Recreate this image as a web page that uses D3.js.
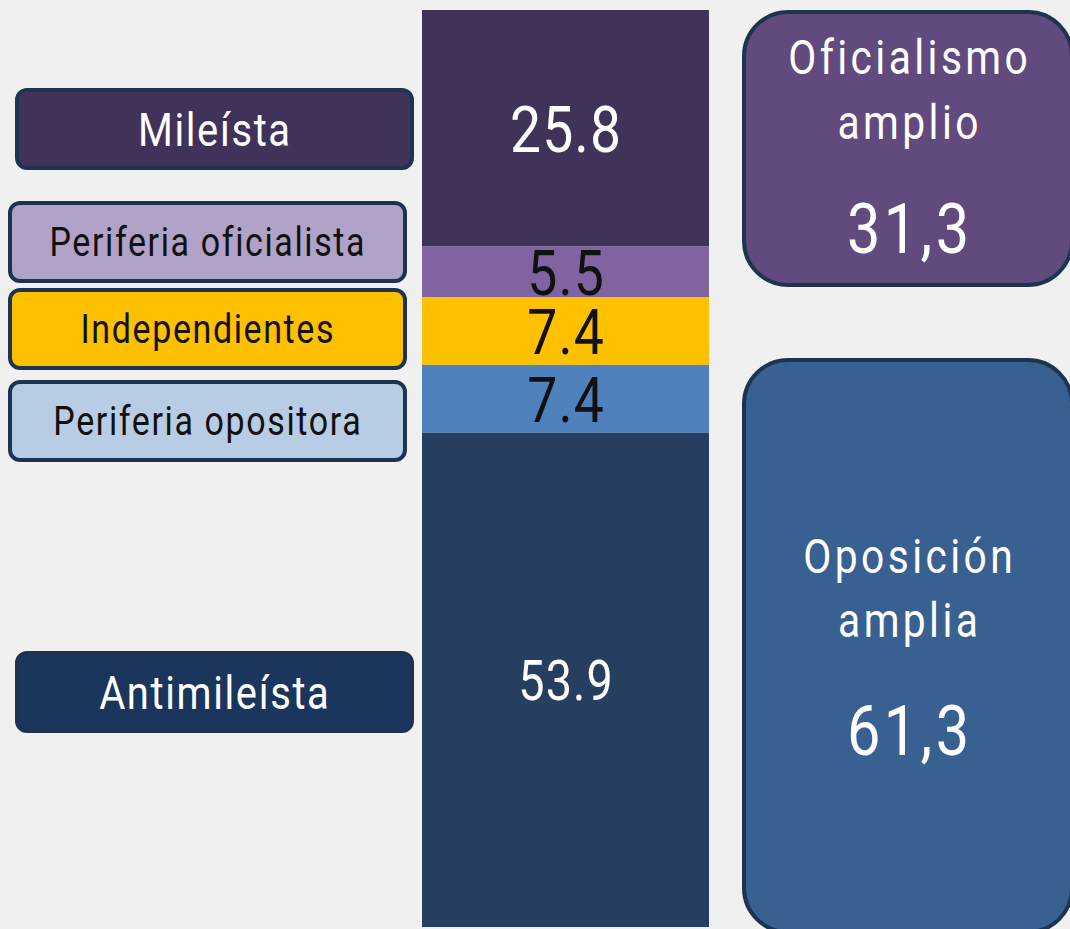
<!DOCTYPE html>
<html>
<head>
<meta charset="utf-8">
<script src="https://cdn.jsdelivr.net/npm/d3@7"></script>
<style>
  body { margin: 0; background: #f0f0f0; }
  text { font-family: Roboto, "Noto Sans", sans-serif; }
</style>
</head>
<body>
<div id="chart"></div>
<script>
// data
const categories = ["Mileísta", "Periferia oficialista", "Independientes", "Periferia opositora", "Antimileísta"];
const values = [25.8, 5.5, 7.4, 7.4, 53.9];
const blockNames = [["Oficialismo", "amplio"], ["Oposición", "amplia"]];
const blockValues = [31.3, 61.3];

const barColors = ["#41325a", "#8064a2", "#ffc000", "#4f81bd", "#263f61"];
const boxColors = ["#41325a", "#b1a2c8", "#ffc000", "#b8cce4", "#1a365d"];
const textColors = ["#ffffff", "#111111", "#111111", "#111111", "#ffffff"];
const valueColors = ["#ffffff", "#111111", "#111111", "#111111", "#ffffff"];
const valueSizes = [65, 63, 63, 63, 55];
const blockColors = ["#614a7d", "#386192"];

const width = 1070, height = 929;
const squeeze = 0.85; // fake the condensed face

const svg = d3.select("#chart")
    .append("svg")
    .attr("width", width)
    .attr("height", height);

svg.append("rect")
    .attr("width", width)
    .attr("height", height)
    .attr("fill", "#f0f0f0");

// stacked bar
const y = d3.scaleLinear().domain([0, d3.sum(values)]).range([10, 927]);
let acc = 0;
const stack = values.map((v, i) => {
    const d = {i: i, v: v, y0: acc, y1: acc + v};
    acc += v;
    return d;
});

const barX = 422, barW = 287;

svg.selectAll(".seg")
    .data(stack)
    .enter().append("rect")
    .attr("class", "seg")
    .attr("x", barX)
    .attr("width", barW)
    .attr("y", d => y(d.y0))
    .attr("height", d => y(d.y1) - y(d.y0))
    .attr("fill", d => barColors[d.i]);

function label(g, x, yy, txt, size, color, ls) {
    ls = ls || 0;
    g.append("text")
        .attr("transform", `translate(${x + ls * squeeze / 2},${yy}) scale(${squeeze},1)`)
        .attr("text-anchor", "middle")
        .attr("dy", "0.355em")
        .attr("font-size", size)
        .attr("letter-spacing", ls)
        .attr("fill", color)
        .text(txt);
}

stack.forEach(d => {
    label(svg, barX + barW / 2, (y(d.y0) + y(d.y1)) / 2 + 1, d.v.toFixed(1), valueSizes[d.i], valueColors[d.i], 1.3);
});

// legend boxes on the left
const boxY = [129, 242, 329, 421, 692];
const boxX = [17, 10, 10, 10, 17];
const boxFont = [47, 40, 40, 40, 47];
categories.forEach((c, i) => {
    svg.append("rect")
        .attr("x", boxX[i])
        .attr("y", boxY[i] - 39)
        .attr("width", 395)
        .attr("height", 78)
        .attr("rx", 10)
        .attr("fill", boxColors[i])
        .attr("stroke", "#1d3350")
        .attr("stroke-width", 4);
    label(svg, boxX[i] + 197, boxY[i], c, boxFont[i], textColors[i], 1.9);
});

// aggregate blocks on the right
const blocks = [
    {top: 12, bottom: 285, nameY: [57, 122], valY: 228},
    {top: 360, bottom: 932, nameY: [556, 620], valY: 730}
];
const fmt = v => v.toFixed(1).replace(".", ",");
blocks.forEach((b, i) => {
    svg.append("rect")
        .attr("x", 744)
        .attr("y", b.top)
        .attr("width", 328)
        .attr("height", b.bottom - b.top)
        .attr("rx", 44)
        .attr("fill", blockColors[i])
        .attr("stroke", "#1d3350")
        .attr("stroke-width", 4);
    blockNames[i].forEach((n, j) => label(svg, 908, b.nameY[j], n, 48, "#ffffff", 4));
    label(svg, 908, b.valY, fmt(blockValues[i]), 70, "#ffffff", 4);
});
</script>
</body>
</html>
